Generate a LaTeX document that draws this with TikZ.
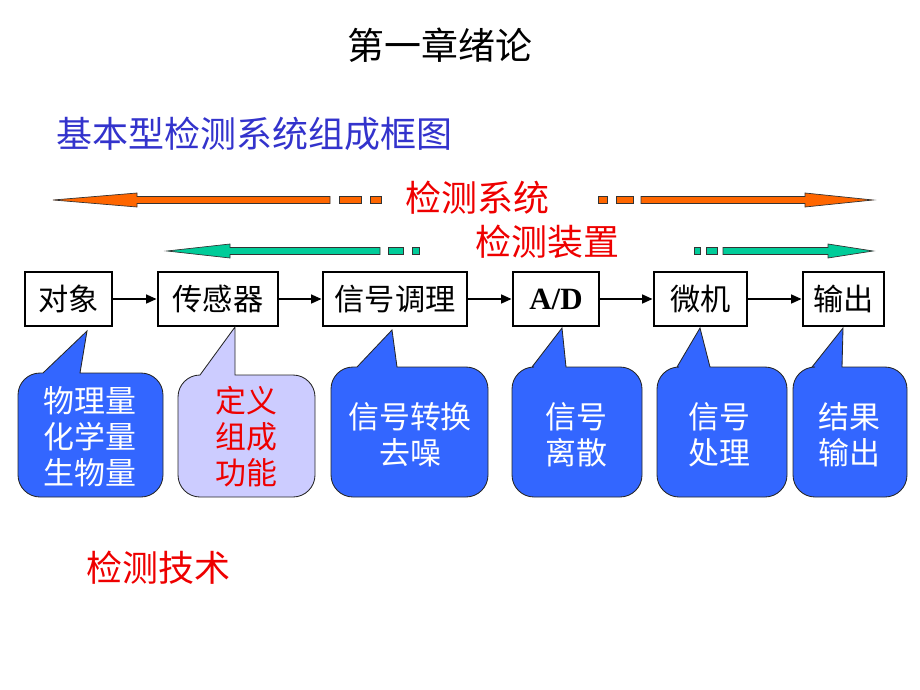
\documentclass[tikz,border=0pt]{standalone}
\usepackage{fontspec}
\setmainfont{Noto Sans CJK SC}
\newfontfamily\latinfont{Liberation Serif}
\usetikzlibrary{arrows.meta,positioning}

\definecolor{sysorange}{RGB}{255,102,0}
\definecolor{devgreen}{RGB}{0,204,153}
\definecolor{headblue}{RGB}{51,51,204}
\definecolor{tipblue}{RGB}{51,102,255}
\definecolor{tiplilac}{RGB}{204,204,255}
\definecolor{markred}{RGB}{238,0,0}

% callout: fill, x1, y1, x2, y2, wedge left x, wedge right x, tip
\newcommand\bubble[8]{%
  \filldraw[bub, fill=#1] (#8) -- (#7,#3) [rounded corners=5.5mm] -- (#4,#3) -- (#4,#5)
    -- (#2,#5) -- (#2,#3) [sharp corners] -- (#6,#3) -- cycle;}

\begin{document}
\begin{tikzpicture}[x=0.025cm, y=-0.025cm,
    blk/.style={draw, line width=2pt, minimum height=13.5mm, inner sep=0pt, font=\fontsize{21.5}{25}\selectfont},
    arr/.style={-{Triangle[length=2.6mm, width=2.2mm]}, line width=1.3pt},
    big/.style={draw=black!80, line width=0.5pt},
    bub/.style={draw=black!85, line width=0.6pt},
    bubtxt/.style={align=center, inner sep=0pt, font=\fontsize{22}{25.6}\selectfont},
    hd/.style={inner sep=0pt, font=\fontsize{25.6}{30}\selectfont}
]
\useasboundingbox (0,0) rectangle (920,690);

% headings
\node[hd, font=\fontsize{26.3}{30}\selectfont] (chap) at (440,45) {第一章绪论};
\node[hd, text=headblue, anchor=west] (ttl) at (56,134) {基本型检测系统组成框图};
\node[hd, text=markred] (sys) at (477,198) {检测系统};
\node[hd, text=markred] (dev) at (547,242) {检测装置};
\node[hd, text=markred] (tech) at (158,568) {检测技术};

% span arrows
\filldraw[big, fill=sysorange] (53,200) -- (137,193) -- (137,196.5) -- (330,196.5)
  -- (330,203.5) -- (137,203.5) -- (137,207) -- cycle;
\foreach \a/\b in {339/361, 370/381, 598/607, 616/633}
  \filldraw[big, fill=sysorange] (\a,196.5) rectangle (\b,203.5);
\filldraw[big, fill=sysorange] (641,196.5) -- (805,196.5) -- (805,193) -- (873,200)
  -- (805,207) -- (805,203.5) -- (641,203.5) -- cycle;

\filldraw[big, fill=devgreen] (167,251) -- (230,244) -- (230,247.5) -- (380,247.5)
  -- (380,254.5) -- (230,254.5) -- (230,258) -- cycle;
\foreach \a/\b in {388/403, 412/419, 694/700, 706/717}
  \filldraw[big, fill=devgreen] (\a,247.5) rectangle (\b,254.5);
\filldraw[big, fill=devgreen] (723,247.5) -- (828,247.5) -- (828,244) -- (873,251)
  -- (828,258) -- (828,254.5) -- (723,254.5) -- cycle;

% chain of blocks
\node[blk, minimum width=21.75mm] (obj) at (68.5,299) {对象};
\node[blk, minimum width=30mm] (sens) at (218,299) {传感器};
\node[blk, minimum width=36mm] (cond) at (395,299) {信号调理};
\node[blk, minimum width=21.5mm, font=\fontsize{22}{25}\latinfont\bfseries] (adc) at (556,299) {A/D};
\node[blk, minimum width=23.25mm] (mcu) at (700.5,299) {微机};
\node[blk, minimum width=20.25mm] (outp) at (843.5,299) {输出};

\draw[arr] (obj) -- (sens);
\draw[arr] (sens) -- (cond);
\draw[arr] (cond) -- (adc);
\draw[arr] (adc) -- (mcu);
\draw[arr] (mcu) -- (outp);

% callouts
\bubble{tipblue}{18}{373}{163}{497}{43}{80}{87,331}
\bubble{tiplilac}{178}{375}{315}{497}{200}{235}{235,327}
\bubble{tipblue}{331}{367}{488}{497}{357}{397}{392,330}
\bubble{tipblue}{512}{367}{642}{497}{532}{566}{562,328}
\bubble{tipblue}{657}{367}{787}{497}{677}{710}{700,328}
\bubble{tipblue}{793}{367}{907}{497}{812}{842}{843,328}

\node[bubtxt, text=white] (qty) at (90,437) {物理量\\化学量\\生物量};
\node[bubtxt, text=markred] (defn) at (246,437) {定义\\组成\\功能};
\node[bubtxt, text=white] (conv) at (410,435) {信号转换\\去噪};
\node[bubtxt, text=white] (disc) at (576,435) {信号\\离散};
\node[bubtxt, text=white] (proc) at (719,435) {信号\\处理};
\node[bubtxt, text=white] (res) at (849,435) {结果\\输出};
\end{tikzpicture}
\end{document}
